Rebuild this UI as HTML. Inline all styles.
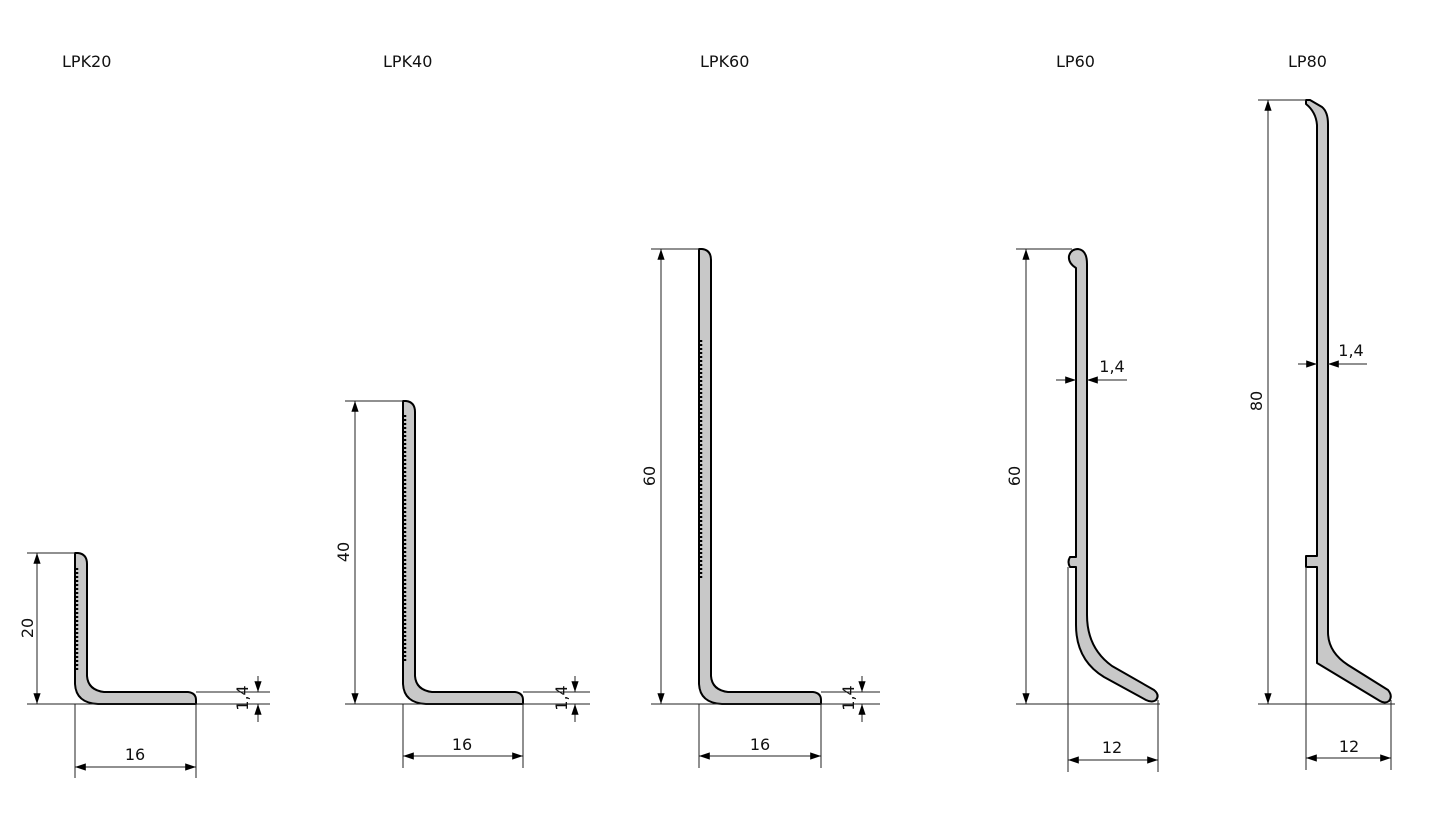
<!DOCTYPE html>
<html><head><meta charset="utf-8"><style>
html,body{margin:0;padding:0;background:#fff;}
svg{display:block;}
text{font-family:"DejaVu Sans","Liberation Sans",sans-serif;font-size:16px;fill:#111;}
.p{fill:#c8c8c8;stroke:#000;stroke-width:2;stroke-linejoin:round;}
.d{stroke:#222;stroke-width:1;fill:none;}
.s{stroke:#000;stroke-width:2.5;stroke-dasharray:2 2;fill:none;}
</style></head><body>
<svg width="1437" height="816" viewBox="0 0 1437 816" xmlns="http://www.w3.org/2000/svg">
<defs>
<marker id="a" viewBox="0 0 12 10" refX="12" refY="5" markerWidth="12" markerHeight="9" orient="auto-start-reverse" markerUnits="userSpaceOnUse"><path d="M0,1 L12,5 L0,9 Z" fill="#000"/></marker>
</defs>
<text x="62" y="67">LPK20</text>
<text x="383" y="67">LPK40</text>
<text x="700" y="67">LPK60</text>
<text x="1056" y="67">LP60</text>
<text x="1288" y="67">LP80</text>

<!-- LPK20 -->
<path class="p" d="M75,553 L78,553 Q87,554 87,564 L87,676 Q88,690 104,692 L188,692 Q196,693 196,700 L196,704 L98,704 Q76,703 75,684 Z"/>
<line class="s" x1="77" y1="568" x2="77" y2="672"/>
<line class="d" x1="27" y1="553" x2="75" y2="553"/>
<line class="d" x1="27" y1="704" x2="270" y2="704"/>
<line class="d" x1="196" y1="692" x2="270" y2="692"/>
<line class="d" x1="37" y1="553" x2="37" y2="704" marker-start="url(#a)" marker-end="url(#a)"/>
<text transform="translate(33,628) rotate(-90)" text-anchor="middle">20</text>
<line class="d" x1="75" y1="704" x2="75" y2="778"/>
<line class="d" x1="196" y1="704" x2="196" y2="778"/>
<line class="d" x1="75" y1="767" x2="196" y2="767" marker-start="url(#a)" marker-end="url(#a)"/>
<text x="135" y="760" text-anchor="middle">16</text>
<line class="d" x1="258" y1="676" x2="258" y2="692" marker-end="url(#a)"/>
<line class="d" x1="258" y1="722" x2="258" y2="704" marker-end="url(#a)"/>
<text transform="translate(248,698) rotate(-90)" text-anchor="middle">1,4</text>

<!-- LPK40 -->
<path class="p" d="M403,401 L406,401 Q415,402 415,412 L415,676 Q416,690 432,692 L515,692 Q523,693 523,700 L523,704 L426,704 Q404,703 403,684 Z"/>
<line class="s" x1="405" y1="415" x2="405" y2="662"/>
<line class="d" x1="345" y1="401" x2="403" y2="401"/>
<line class="d" x1="345" y1="704" x2="590" y2="704"/>
<line class="d" x1="523" y1="692" x2="590" y2="692"/>
<line class="d" x1="355" y1="401" x2="355" y2="704" marker-start="url(#a)" marker-end="url(#a)"/>
<text transform="translate(349,552) rotate(-90)" text-anchor="middle">40</text>
<line class="d" x1="403" y1="704" x2="403" y2="768"/>
<line class="d" x1="523" y1="704" x2="523" y2="768"/>
<line class="d" x1="403" y1="756" x2="523" y2="756" marker-start="url(#a)" marker-end="url(#a)"/>
<text x="462" y="750" text-anchor="middle">16</text>
<line class="d" x1="575" y1="676" x2="575" y2="692" marker-end="url(#a)"/>
<line class="d" x1="575" y1="722" x2="575" y2="704" marker-end="url(#a)"/>
<text transform="translate(567,698) rotate(-90)" text-anchor="middle">1,4</text>

<!-- LPK60 -->
<path class="p" d="M699,249 L702,249 Q711,250 711,260 L711,676 Q712,690 728,692 L813,692 Q821,693 821,700 L821,704 L722,704 Q700,703 699,684 Z"/>
<line class="s" x1="701" y1="340" x2="701" y2="580"/>
<line class="d" x1="651" y1="249" x2="699" y2="249"/>
<line class="d" x1="651" y1="704" x2="880" y2="704"/>
<line class="d" x1="821" y1="692" x2="880" y2="692"/>
<line class="d" x1="661" y1="249" x2="661" y2="704" marker-start="url(#a)" marker-end="url(#a)"/>
<text transform="translate(655,476) rotate(-90)" text-anchor="middle">60</text>
<line class="d" x1="699" y1="704" x2="699" y2="768"/>
<line class="d" x1="821" y1="704" x2="821" y2="768"/>
<line class="d" x1="699" y1="756" x2="821" y2="756" marker-start="url(#a)" marker-end="url(#a)"/>
<text x="760" y="750" text-anchor="middle">16</text>
<line class="d" x1="862" y1="676" x2="862" y2="692" marker-end="url(#a)"/>
<line class="d" x1="862" y1="722" x2="862" y2="704" marker-end="url(#a)"/>
<text transform="translate(854,698) rotate(-90)" text-anchor="middle">1,4</text>

<!-- LP60 -->
<path class="p" d="M1076,268 Q1068,263 1069,256 Q1071,249 1078,249 Q1087,250 1087,264 L1087,615 Q1087,648 1112,666 L1154,690 Q1160,695 1156,700 Q1152,703 1146,700 L1104,677 Q1076,660 1076,625 L1076,567 L1070,567 Q1067,562 1070,557 L1076,557 Z"/>
<line class="d" x1="1016" y1="249" x2="1072" y2="249"/>
<line class="d" x1="1016" y1="704" x2="1160" y2="704"/>
<line class="d" x1="1026" y1="249" x2="1026" y2="704" marker-start="url(#a)" marker-end="url(#a)"/>
<text transform="translate(1020,476) rotate(-90)" text-anchor="middle">60</text>
<line class="d" x1="1068" y1="567" x2="1068" y2="772"/>
<line class="d" x1="1158" y1="700" x2="1158" y2="772"/>
<line class="d" x1="1068" y1="760" x2="1158" y2="760" marker-start="url(#a)" marker-end="url(#a)"/>
<text x="1112" y="753" text-anchor="middle">12</text>
<line class="d" x1="1056" y1="380" x2="1076" y2="380" marker-end="url(#a)"/>
<line class="d" x1="1127" y1="380" x2="1087" y2="380" marker-end="url(#a)"/>
<text x="1112" y="372" text-anchor="middle">1,4</text>

<!-- LP80 -->
<path class="p" d="M1317,125 Q1316,112 1306,104 L1306,100 L1310,100 L1322,107 Q1328,112 1328,124 L1328,632 Q1328,652 1348,665 L1388,690 Q1393,696 1389,701 Q1385,704 1380,701 L1317,663 L1317,567 L1306,567 L1306,556 L1317,556 Z"/>
<line class="d" x1="1258" y1="100" x2="1306" y2="100"/>
<line class="d" x1="1258" y1="704" x2="1395" y2="704"/>
<line class="d" x1="1268" y1="100" x2="1268" y2="704" marker-start="url(#a)" marker-end="url(#a)"/>
<text transform="translate(1262,401) rotate(-90)" text-anchor="middle">80</text>
<line class="d" x1="1306" y1="567" x2="1306" y2="770"/>
<line class="d" x1="1391" y1="700" x2="1391" y2="770"/>
<line class="d" x1="1306" y1="758" x2="1391" y2="758" marker-start="url(#a)" marker-end="url(#a)"/>
<text x="1349" y="752" text-anchor="middle">12</text>
<line class="d" x1="1298" y1="364" x2="1317" y2="364" marker-end="url(#a)"/>
<line class="d" x1="1367" y1="364" x2="1328" y2="364" marker-end="url(#a)"/>
<text x="1351" y="356" text-anchor="middle">1,4</text>
</svg>
</body></html>
